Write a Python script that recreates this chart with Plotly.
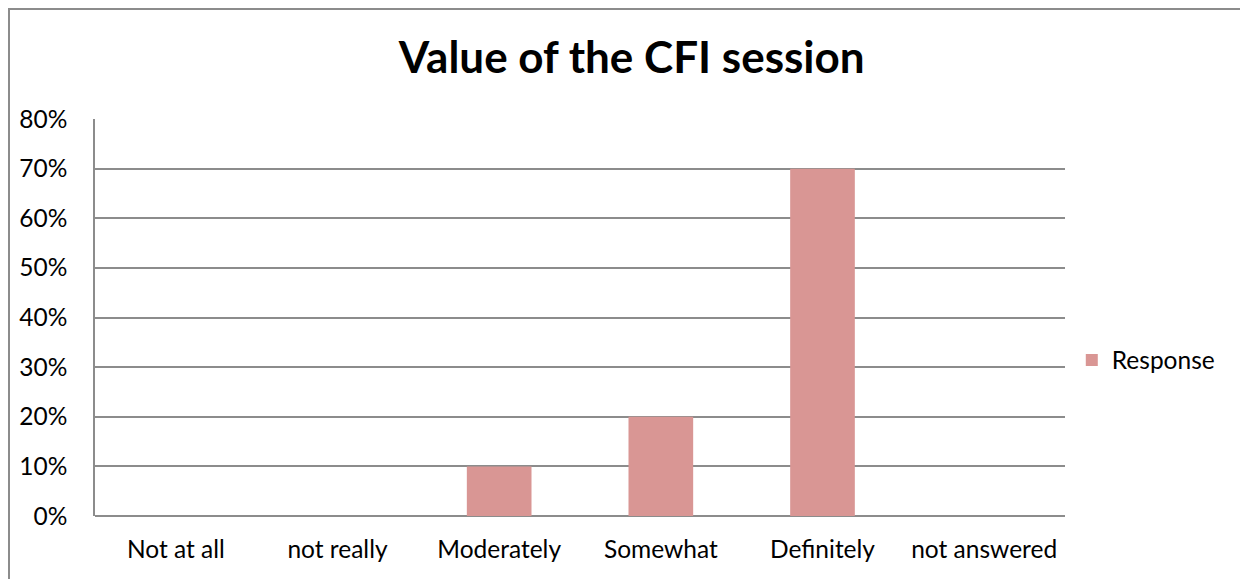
import plotly.graph_objects as go

categories = ["Not at all", "not really", "Moderately", "Somewhat", "Definitely", "not answered"]
values = [0, 0, 0.10, 0.20, 0.70, 0]
y_ticks = [0, 0.1, 0.2, 0.3, 0.4, 0.5, 0.6, 0.7, 0.8]
y_tick_labels = ["0%", "10%", "20%", "30%", "40%", "50%", "60%", "70%", "80%"]

FONT = "Lato, 'Open Sans', sans-serif"
GRID = "#8c8c8c"
W, H = 1240, 571
L, R, T, B = 87, 183, 111, 63
pw, ph = W - L - R, H - T - B

fig = go.Figure()
fig.add_trace(go.Bar(x=categories, y=values, name="Response",
                     marker=dict(color="#D99694", line=dict(width=0)),
                     showlegend=True))

fig.update_layout(
    width=W, height=H,
    margin=dict(l=L, r=R, t=T, b=B),
    paper_bgcolor="white", plot_bgcolor="white",
    bargap=0.6,
    title=dict(text="<b>Value of the CFI session</b>", x=0.503, xanchor="center",
               xref="container", y=1 - 50 / H, yanchor="middle", yref="container",
               font=dict(family=FONT, size=44, color="black")),
    font=dict(family=FONT, size=24.5, color="black"),
    showlegend=True,
    legend=dict(x=1.007, xanchor="left", y=0.393, yanchor="middle",
                font=dict(family=FONT, size=24.5, color="black"),
                bgcolor="rgba(0,0,0,0)", itemwidth=30),
    xaxis=dict(showgrid=False, showline=False, ticks="", tickfont=dict(size=24.5),
               ticklabelstandoff=16, fixedrange=True),
    yaxis=dict(range=[0, 0.8], tickvals=y_ticks, ticktext=y_tick_labels,
               showgrid=True, gridcolor=GRID, gridwidth=1.5,
               showline=True, linecolor=GRID, linewidth=1.5,
               zeroline=True, zerolinecolor=GRID, zerolinewidth=1.5,
               ticks="", tickfont=dict(size=24.5), ticklabelstandoff=21),
    shapes=[
        dict(type="line", xref="paper", yref="paper",
             x0=-L / pw, x1=(pw + R) / pw, y0=1 + (T - 1) / ph, y1=1 + (T - 1) / ph,
             line=dict(color=GRID, width=2)),
        dict(type="line", xref="paper", yref="paper",
             x0=-(L - 1) / pw, x1=-(L - 1) / pw, y0=-B / ph, y1=1 + T / ph,
             line=dict(color=GRID, width=2)),
    ],
)

fig.write_html("out.html")
